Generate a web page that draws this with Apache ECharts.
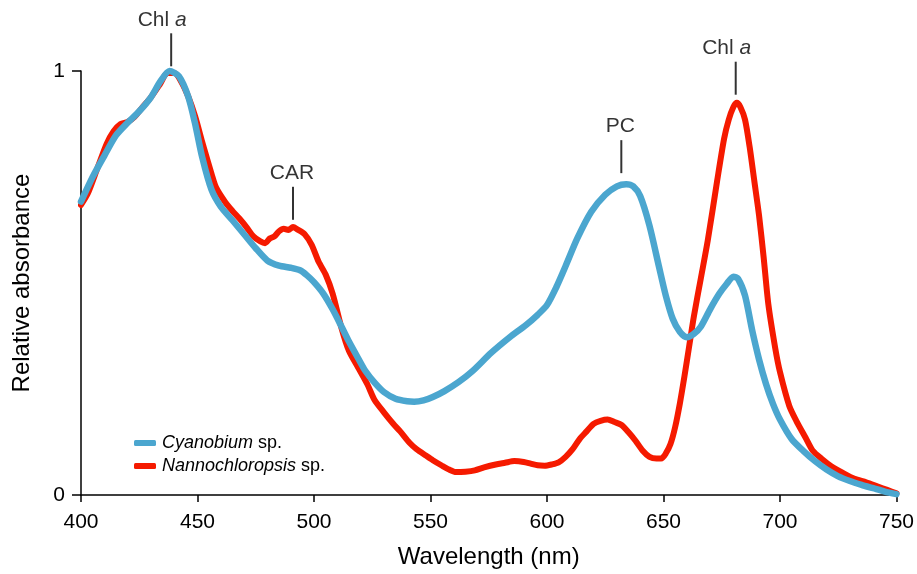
<!DOCTYPE html>
<html>
<head>
<meta charset="utf-8">
<script src="https://cdn.jsdelivr.net/npm/echarts@6/dist/echarts.min.js"></script>
<style>
html,body{margin:0;padding:0;background:#fff;}
#chart{width:917px;height:574px;}
</style>
</head>
<body>
<div id="chart"></div>
<script>
// ---- Data ----
var xTicks = [400, 450, 500, 550, 600, 650, 700, 750];
var yTicks = [0, 1];

var seriesNames = ['Cyanobium sp.', 'Nannochloropsis sp.'];

var cyanoX = [400,405,410,415,420,425,430,434,438,442,446,449,452,456,460,465,470,475,480,485,490,494,497,500,504,508,512,515,519,522,526,530,535,540,543,547,551,556,562,568,576,584,591,596,600,604,608,613,619,625,630,634,637,640,644,648,651,654,657,660,663,666,670,674,677,680,682,685,688,691,694,697,700,705,710,715,720,725,730,735,740,745,750];
var cyanoY = [0.692,0.750,0.800,0.848,0.878,0.905,0.938,0.975,1.000,0.988,0.940,0.875,0.797,0.720,0.680,0.648,0.615,0.582,0.553,0.541,0.536,0.530,0.518,0.502,0.475,0.438,0.395,0.362,0.322,0.293,0.265,0.243,0.227,0.221,0.220,0.223,0.231,0.245,0.266,0.292,0.335,0.372,0.401,0.425,0.448,0.490,0.540,0.605,0.668,0.708,0.728,0.733,0.728,0.705,0.635,0.540,0.470,0.415,0.385,0.372,0.380,0.397,0.438,0.475,0.497,0.515,0.510,0.470,0.390,0.320,0.262,0.215,0.178,0.132,0.104,0.080,0.060,0.044,0.033,0.024,0.016,0.008,0.002];

var nannoX = [400,403,407,411,414,417,420,423,426,430,434,437,440,443,446,449,452,454,456,458,462,465,468,471,474,477,479,481,483,485,487,489,491,493,496,499,502,505,508,512,515,519,523,526,530,534,537,541,544,548,551,555,558,561,565,569,573,578,582,586,590,593,596,599,602,605,608,611,614,617,620,623,626,629,632,635,638,641,644,647,649,651,653,655,657,659,661,663,666,669,673,676,678,680,681.5,683,685,687,689,691,693,695,698,700,704,707,711,714,718,722,727,732,737,742,746,750];
var nannoY = [0.684,0.712,0.770,0.828,0.858,0.875,0.880,0.892,0.912,0.938,0.970,0.995,0.995,0.975,0.940,0.893,0.833,0.795,0.758,0.725,0.690,0.670,0.652,0.632,0.610,0.598,0.594,0.605,0.610,0.622,0.628,0.625,0.632,0.626,0.615,0.590,0.550,0.520,0.475,0.390,0.340,0.300,0.260,0.224,0.195,0.168,0.150,0.123,0.108,0.093,0.082,0.069,0.060,0.054,0.055,0.058,0.065,0.072,0.076,0.080,0.078,0.074,0.070,0.069,0.072,0.077,0.090,0.108,0.132,0.150,0.168,0.175,0.178,0.172,0.165,0.148,0.128,0.105,0.090,0.086,0.086,0.098,0.120,0.160,0.215,0.280,0.350,0.420,0.510,0.600,0.740,0.840,0.885,0.915,0.925,0.915,0.885,0.820,0.740,0.660,0.560,0.450,0.345,0.290,0.210,0.175,0.135,0.105,0.085,0.068,0.052,0.038,0.030,0.020,0.012,0.004];

var annoLabels = ['Chl a', 'CAR', 'PC', 'Chl a'];
var annoX = [438.7, 491.0, 631.9, 681.0];
var annoY = [1.050, 0.688, 0.798, 0.983];

// ---- Build ----
function zip(xs, ys) { return xs.map(function (x, i) { return [x, ys[i]]; }); }

var FONT = '"Liberation Sans", Arial, Helvetica, sans-serif';
var BLUE = '#4ba6cf';
var RED = '#f51a00';

var chart = echarts.init(document.getElementById('chart'), null, {renderer: 'canvas'});

var option = {
  animation: false,
  backgroundColor: '#ffffff',
  textStyle: {fontFamily: FONT, color: '#000'},
  grid: {left: 81, right: 20, top: 71, bottom: 71, containLabel: false},
  legend: {
    orient: 'vertical',
    left: 129,
    top: 429,
    itemWidth: 22,
    itemHeight: 6,
    itemGap: 5,
    icon: 'roundRect',
    data: seriesNames,
    formatter: function (name) {
      var parts = name.split(' ');
      return '{i|' + parts[0] + '} ' + parts.slice(1).join(' ');
    },
    textStyle: {
      fontFamily: FONT, fontSize: 18, color: '#000', lineHeight: 18,
      padding: [0, 0, 0, 1],
      rich: {i: {fontStyle: 'italic', fontFamily: FONT, fontSize: 18, color: '#000'}}
    }
  },
  xAxis: {
    type: 'value',
    min: xTicks[0],
    max: xTicks[xTicks.length - 1],
    interval: 50,
    name: 'Wavelength (nm)',
    nameLocation: 'middle',
    nameGap: 50,
    nameTextStyle: {fontFamily: FONT, fontSize: 24, color: '#000'},
    axisLine: {show: true, lineStyle: {color: '#000', width: 1.5}},
    axisTick: {show: true, length: 7, lineStyle: {color: '#000', width: 1.5}},
    axisLabel: {fontFamily: FONT, fontSize: 21, color: '#000', margin: 17},
    splitLine: {show: false}
  },
  yAxis: {
    type: 'value',
    min: yTicks[0],
    max: yTicks[yTicks.length - 1],
    interval: 1,
    name: 'Relative absorbance',
    nameLocation: 'middle',
    nameGap: 47,
    nameTextStyle: {fontFamily: FONT, fontSize: 24, color: '#000'},
    axisLine: {show: true, lineStyle: {color: '#000', width: 1.5}},
    axisTick: {show: true, length: 9, lineStyle: {color: '#000', width: 1.5}},
    axisLabel: {fontFamily: FONT, fontSize: 21, color: '#000', margin: 16},
    splitLine: {show: false}
  },
  series: [
    {
      name: seriesNames[1],
      type: 'line',
      data: zip(nannoX, nannoY),
      showSymbol: false,
      symbol: 'none',
      smooth: 0.25,
      clip: false,
      color: RED,
      lineStyle: {width: 6, color: RED, cap: 'round', join: 'round'},
      z: 2
    },
    {
      name: seriesNames[0],
      type: 'line',
      data: zip(cyanoX, cyanoY),
      showSymbol: false,
      symbol: 'none',
      smooth: 0.25,
      clip: false,
      color: BLUE,
      lineStyle: {width: 6.5, color: BLUE, cap: 'round', join: 'round'},
      z: 3
    },
    {
      name: 'annotations',
      type: 'scatter',
      clip: false,
      silent: true,
      symbol: 'rect',
      symbolSize: [2, 33],
      itemStyle: {color: '#000'},
      data: annoX.map(function (x, i) {
        var isChl = annoLabels[i].indexOf('Chl ') === 0;
        return {value: [x, annoY[i]], name: annoLabels[i],
                label: {offset: [isChl ? -9 : -1, 0]}};
      }),
      label: {
        show: true,
        position: 'top',
        distance: 3,
        color: '#000',
        formatter: function (p) {
          var t = p.name;
          if (t.indexOf('Chl ') === 0) return '{n|Chl }{i|' + t.slice(4) + '}';
          return '{n|' + t + '}';
        },
        rich: {
          n: {fontFamily: FONT, fontSize: 21, color: '#000'},
          i: {fontFamily: FONT, fontSize: 21, color: '#000', fontStyle: 'italic'}
        }
      },
      z: 5
    }
  ]
};

chart.setOption(option);
</script>
</body>
</html>
